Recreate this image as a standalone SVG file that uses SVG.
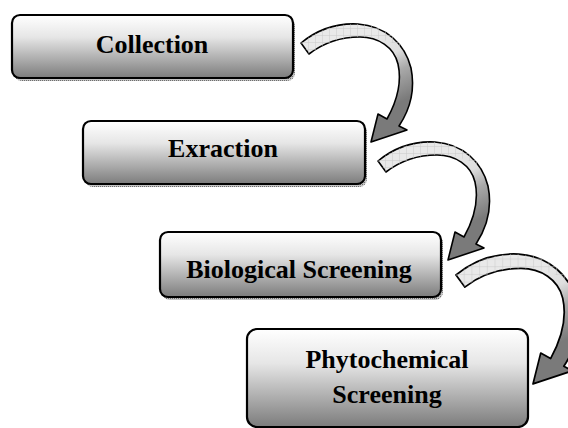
<svg xmlns="http://www.w3.org/2000/svg" xmlns:xlink="http://www.w3.org/1999/xlink" width="568" height="428" viewBox="0 0 568 428">
<style>
.box{fill:url(#boxg);stroke:#000;stroke-width:2.2}
.shadow{fill:url(#dots)}
.lbl{font-family:"Liberation Serif","Times New Roman",serif;font-weight:bold;font-size:26px;fill:#000;text-anchor:middle}
.arrow{fill:url(#arrg);stroke:#000;stroke-width:1.6;stroke-linejoin:round}
.grid{fill:url(#grid);stroke:none}
</style>
<defs>
<linearGradient id="boxg" x1="0" y1="0" x2="0" y2="1">
<stop offset="0" stop-color="#ffffff"/>
<stop offset="0.35" stop-color="#e6e6e6"/>
<stop offset="1" stop-color="#7c7c7c"/>
</linearGradient>
<pattern id="dots" width="2" height="2" patternUnits="userSpaceOnUse">
<rect width="2" height="2" fill="#c4c4c4"/>
<rect width="1" height="1" fill="#6e6e6e"/>
</pattern>
<linearGradient id="arrg" gradientUnits="userSpaceOnUse" x1="372" y1="35" x2="405" y2="100">
<stop offset="0" stop-color="#e9e9e9"/>
<stop offset="0.35" stop-color="#dedede"/>
<stop offset="0.6" stop-color="#a9a9a9"/>
<stop offset="1" stop-color="#7a7a7a"/>
</linearGradient>
<pattern id="grid" width="7" height="7" patternUnits="userSpaceOnUse">
<path d="M0,0.5H7M0.5,0V7" stroke="#c9c9c9" stroke-width="0.8" fill="none" opacity="0.6"/>
</pattern>
<path id="arrowShape" d="M301,43 C318,29 338,23 358,24 C386,26 405,44 411,68 C415,88 411,108 399,126 L407,130 L371,142 L378,114 L387,119 C397,101 402,82 398,64 C394,47 378,37 360,37 C340,37 322,44 309,54 Z"/>
<path id="arrowTail" d="M301,43 C318,29 338,23 358,24 C380,25 396,35 404,50 C396,43 380,37 360,37 C340,37 322,44 309,54 Z"/>
</defs>

<g id="connectors">
<g id="arrow1">
<use xlink:href="#arrowShape" class="arrow"/>
<use xlink:href="#arrowTail" class="grid"/>
</g>
<g id="arrow2" transform="translate(77,118)">
<use xlink:href="#arrowShape" class="arrow"/>
<use xlink:href="#arrowTail" class="grid"/>
</g>
<g id="arrow3" transform="translate(456,275) scale(1.1) translate(-301,-43)">
<use xlink:href="#arrowShape" class="arrow"/>
<use xlink:href="#arrowTail" class="grid"/>
</g>
</g>

<g id="collection">
<rect class="shadow" x="14" y="18" width="281" height="63" rx="8"/>
<rect class="box" x="12" y="15" width="281" height="63" rx="8"/>
<text class="lbl" x="152" y="53">Collection</text>
</g>

<g id="extraction">
<rect class="shadow" x="85" y="124" width="282" height="63" rx="8"/>
<rect class="box" x="83" y="121" width="282" height="63" rx="8"/>
<text class="lbl" x="223" y="157">Exraction</text>
</g>

<g id="biological">
<rect class="shadow" x="162" y="235" width="281" height="65" rx="8"/>
<rect class="box" x="160" y="232" width="281" height="65" rx="8"/>
<text class="lbl" x="299" y="278">Biological Screening</text>
</g>

<g id="phytochemical">
<rect class="box" x="247" y="329" width="281" height="98" rx="10"/>
<text class="lbl" x="387" y="368">Phytochemical</text>
<text class="lbl" x="387" y="403">Screening</text>
</g>
</svg>
